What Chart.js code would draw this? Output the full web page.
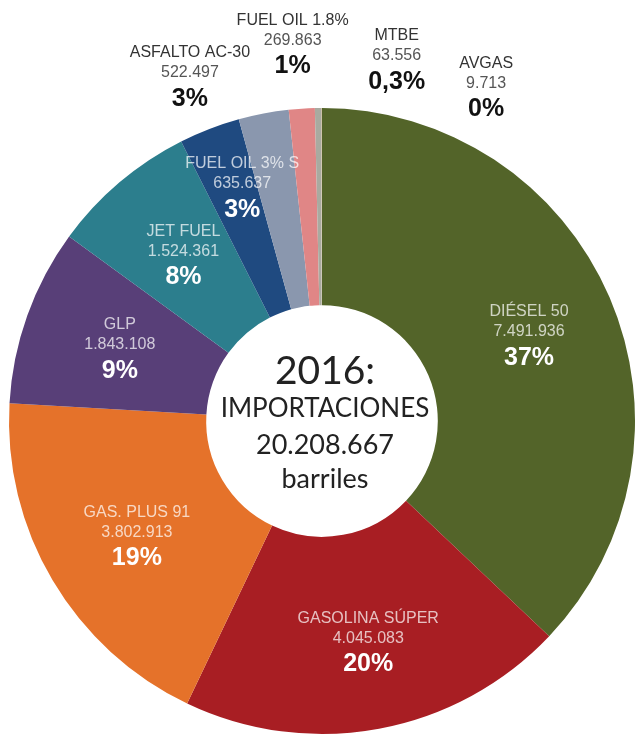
<!DOCTYPE html>
<html>
<head>
<meta charset="utf-8">
<script src="https://cdn.jsdelivr.net/npm/chart.js@4.4.0/dist/chart.umd.min.js"></script>
<style>
  body { margin: 0; background: #fff; }
  #wrap { width: 635px; height: 738px; }
</style>
</head>
<body>
<div id="wrap"><canvas id="importChart" width="635" height="738"></canvas></div>
<script>
// datos 2016
const fuelNames = ["DIÉSEL 50", "GASOLINA SÚPER", "GAS. PLUS 91", "GLP", "JET FUEL", "FUEL OIL 3% S", "ASFALTO AC-30", "FUEL OIL 1.8%", "MTBE", "AVGAS"];
const barrels = [7491936, 4045083, 3802913, 1843108, 1524361, 635637, 522497, 269863, 63556, 9713];
const valueText = ["7.491.936", "4.045.083", "3.802.913", "1.843.108", "1.524.361", "635.637", "522.497", "269.863", "63.556", "9.713"];
const pctText = ["37%", "20%", "19%", "9%", "8%", "3%", "3%", "1%", "0,3%", "0%"];
const centerLines = ["2016:", "IMPORTACIONES", "20.208.667", "barriles"];

const sliceColors = ["#536429", "#A81E23", "#E5722A", "#583F78", "#2C7E8D", "#1F4A80", "#8A97AE", "#E08686", "#A9AAA0", "#C9BDA5"];

// where each label sits: distance as share of radius, angle shift (deg) from the slice middle
const labelPlace = [
  { r: 0.72, shift: 0 },
  { r: 0.71, shift: -1.5 },
  { r: 0.69, shift: -0.4 },
  { r: 0.69, shift: 0.9 },
  { r: 0.70, shift: 1.1 },
  { r: 0.80, shift: 2.5 },
  { r: 1.19, shift: -10 },
  { r: 1.22, shift: -0.7 },
  { r: 1.19, shift: 12.3 },
  { r: 1.20, shift: 26 }
];

const labelPlugin = {
  id: "sliceLabels",
  afterDatasetsDraw(chart) {
    const ctx = chart.ctx;
    const arcs = chart.getDatasetMeta(0).data;
    ctx.save();
    ctx.textAlign = "center";
    ctx.textBaseline = "middle";
    arcs.forEach((arc, i) => {
      const p = arc.getProps(["x", "y", "startAngle", "endAngle", "outerRadius"], true);
      const mid = (p.startAngle + p.endAngle) / 2 + labelPlace[i].shift * Math.PI / 180;
      const d = p.outerRadius * labelPlace[i].r;
      const cx = p.x + Math.cos(mid) * d;
      const cy = p.y + Math.sin(mid) * d;
      const outside = labelPlace[i].r > 1;

      ctx.font = "16px 'Liberation Sans', Arial, sans-serif";
      ctx.fillStyle = outside ? "#333" : "rgba(255,255,255,0.72)";
      ctx.fillText(fuelNames[i], cx, cy - 20);
      ctx.fillStyle = outside ? "#555" : "rgba(255,255,255,0.72)";
      ctx.fillText(valueText[i], cx, cy);
      ctx.font = "bold 25px 'Liberation Sans', Arial, sans-serif";
      ctx.fillStyle = outside ? "#111" : "#fff";
      ctx.fillText(pctText[i], cx, cy + 26);
    });

    // texto del centro
    const c = arcs[0].getProps(["x", "y"], true);
    const sizes = [39, 26, 27, 27];
    const offs = [-50, -12, 24, 58];
    ctx.fillStyle = "#222";
    centerLines.forEach((t, k) => {
      ctx.font = sizes[k] + "px Lato, 'Open Sans', sans-serif";
      ctx.fillText(t, c.x + 3, c.y + offs[k]);
    });
    ctx.restore();
  }
};

new Chart(document.getElementById("importChart"), {
  type: "doughnut",
  data: {
    labels: fuelNames,
    datasets: [{
      data: barrels,
      backgroundColor: sliceColors,
      borderWidth: 0,
      hoverOffset: 0
    }]
  },
  options: {
    responsive: false,
    animation: false,
    devicePixelRatio: 1,
    cutout: "37%",
    layout: { padding: { left: 9, top: 108, right: 0, bottom: 4 } },
    plugins: {
      legend: { display: false },
      tooltip: { enabled: false }
    }
  },
  plugins: [labelPlugin]
});
</script>
</body>
</html>
